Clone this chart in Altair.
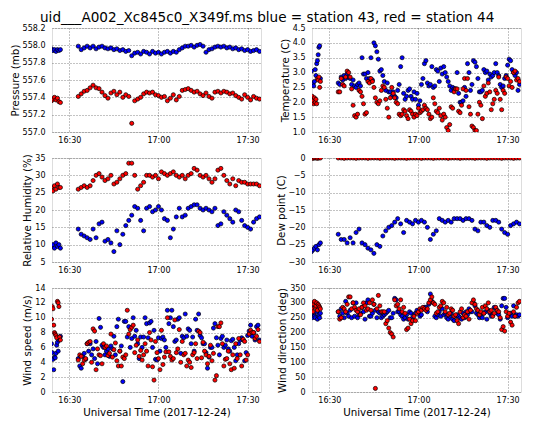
import altair as alt
import numpy as np
import pandas as pd

# ---------------- time grids (minutes after 16:00 UT) ----------------
T_COARSE = list(np.arange(24.0, 27.01, 0.5)) + list(np.arange(33.0, 94.01, 1.0))     # 7 + 62
T_FINE = list(np.arange(24.0, 27.01, 0.25)) + list(np.arange(33.0, 94.01, 0.5))      # 13 + 123

X_TICKS = [30, 60, 90]
X_TICK_LABELS = ["16:30", "17:00", "17:30"]
X_DOMAIN = [24.17, 94.5]
STATIONS = ["station 43", "station 44"]
COLORS = ["#0000ff", "#ff0000"]

# ---------------- Pressure (mb) ----------------
P_BLUE = [557.96, 557.94, 557.95, 557.93, 557.95, 557.94, 557.95,
          557.99, 557.95, 557.97, 557.99, 557.97, 557.99, 557.96, 557.98, 557.99, 557.97,
          557.96, 557.97, 557.95, 557.96, 557.94, 557.95, 557.93, 557.94, 557.88, 557.91,
          557.92, 557.90, 557.93, 557.92, 557.90, 557.93, 557.91, 557.92, 557.90, 557.92,
          557.93, 557.91, 557.93, 557.92, 557.95, 557.97, 557.99, 557.99, 558.00, 557.98,
          558.00, 558.01, 557.99, 557.92, 557.95, 557.96, 557.98, 557.99, 557.98, 557.99,
          557.97, 557.98, 557.96, 557.97, 557.95, 557.96, 557.94, 557.95, 557.93, 557.94,
          557.95, 557.93]
P_RED = [557.36, 557.38, 557.40, 557.37, 557.39, 557.35, 557.34,
         557.41, 557.44, 557.47, 557.48, 557.51, 557.54, 557.51, 557.50, 557.46, 557.42,
         557.39, 557.45, 557.47, 557.43, 557.46, 557.40, 557.43, 557.41, 557.10, 557.36,
         557.38, 557.40, 557.44, 557.46, 557.45, 557.46, 557.43, 557.42, 557.40, 557.41,
         557.36, 557.39, 557.43, 557.37, 557.41, 557.48, 557.49, 557.50, 557.48, 557.46,
         557.47, 557.44, 557.42, 557.45, 557.41, 557.39, 557.46, 557.47, 557.45, 557.47,
         557.46, 557.44, 557.45, 557.42, 557.40, 557.38, 557.43, 557.40, 557.37, 557.41,
         557.39, 557.38]

# ---------------- Temperature (C) ----------------
T_BLUE = [3.05, 2.6, 2.65, 2.55, 2.7, 3.1, 2.9, 3.3, 3.4, 3.6, 3.85, 3.9, 2.8,
          2.65, 2.6, 2.85, 2.75, 2.9, 2.8, 2.95, 2.85, 2.8, 2.6,
          2.75, 2.55, 2.5, 2.6, 2.65, 2.55, 3.5, 2.95, 2.95, 2.8,
          3.0, 2.8, 3.5, 2.75, 4.0, 3.9, 3.7, 3.45, 3.05, 3.1,
          2.9, 2.7, 2.4, 2.65, 2.35, 2.35, 2.2, 2.35, 2.2, 2.15,
          2.4, 2.6, 3.2, 3.5, 2.3, 2.1, 2.2, 2.4, 2.45, 2.2,
          2.1, 2.35, 2.1, 2.3, 1.9, 2.05, 2.6, 2.8, 3.3, 3.4,
          2.65, 2.55, 2.6, 3.2, 2.5, 2.55, 3.1, 3.05, 2.7, 3.15,
          2.95, 3.2, 3.0, 2.85, 2.7, 2.55, 2.4, 2.5, 2.45, 2.45,
          3.0, 2.3, 2.0, 2.0, 2.05, 2.5, 2.2, 3.3, 3.0, 2.4,
          2.6, 3.4, 3.35, 3.2, 2.8, 2.35, 2.35, 2.4, 3.1, 3.0,
          3.05, 2.75, 2.95, 2.85, 2.9, 3.0, 3.3, 3.0, 2.9, 2.6,
          2.5, 2.55, 2.8, 2.9, 3.25, 3.45, 3.4, 3.1, 3.0, 2.9,
          3.0, 2.4, 2.6]
T_RED = [2.1, 2.2, 2.05, 1.95, 2.15, 2.0, 2.1, 1.95, 2.8, 2.75, 2.85, 2.5, 2.7,
         2.35, 2.35, 2.8, 2.6, 2.55, 2.85, 3.05, 3.0, 2.85, 2.45,
         1.9, 1.55, 1.5, 1.6, 2.4, 2.35, 2.2, 1.95, 1.6, 1.65,
         2.7, 2.65, 2.8, 2.7, 2.5, 2.15, 2.0, 1.95, 2.05, 2.4,
         2.55, 2.5, 2.1, 1.8, 1.5, 2.15, 2.5, 2.3, 2.15, 2.0,
         1.95, 1.6, 1.55, 1.6, 1.75, 1.7, 1.55, 1.45, 1.75, 1.7,
         1.6, 1.5, 1.6, 1.55, 1.8, 1.65, 1.7, 1.75, 1.9, 1.8,
         1.75, 1.6, 1.45, 1.5, 2.15, 1.95, 1.7, 1.65, 1.8, 1.55,
         1.4, 1.6, 1.5, 1.15, 1.05, 1.25, 1.85, 1.8, 2.35, 2.45,
         2.45, 1.7, 1.65, 1.9, 2.45, 2.8, 2.4, 2.8, 1.85, 1.6,
         1.2, 1.15, 1.05, 1.05, 1.6, 2.0, 1.9, 1.45, 2.55, 2.2,
         2.3, 2.65, 2.35, 1.75, 1.95, 2.1, 2.4, 2.3, 2.85, 2.1,
         1.75, 2.4, 2.3, 2.85, 2.8, 2.55, 2.7, 2.5, 3.0, 3.05,
         2.75, 2.8, 2.7]

# ---------------- Relative Humidity (%) ----------------
RH_BLUE = [9.5, 10.0, 9.0, 10.5, 9.5, 10.0, 9.0,
           14.5, 13.0, 12.5, 12.0, 11.5, 14.5, 12.0, 16.0, 16.5, 11.0,
           11.5, 10.5, 8.0, 14.0, 10.0, 13.0, 15.5, 17.0, 18.5, 21.0,
           20.5, 17.0, 14.0, 20.5, 21.0, 19.5, 20.0, 21.0, 20.0, 17.5,
           17.0, 12.0, 14.5, 18.0, 20.5, 18.0, 18.5, 20.5, 21.0, 21.5,
           21.5, 20.5, 20.0, 20.5, 20.0, 19.5, 20.5, 15.5, 16.0, 19.5,
           18.5, 17.5, 16.5, 20.0, 19.5, 17.0, 15.5, 15.0, 14.5, 16.5,
           17.5, 18.0]
RH_RED = [26.5, 25.5, 27.0, 26.0, 27.5, 26.5, 26.5,
          26.0, 26.5, 27.0, 26.5, 27.0, 28.5, 30.0, 30.5, 29.5, 28.5,
          29.0, 30.0, 27.5, 28.0, 29.0, 30.0, 30.5, 33.5, 33.5, 30.0,
          26.0, 27.0, 28.0, 30.0, 30.0, 29.5, 30.0, 29.0, 31.0, 30.5,
          30.0, 30.5, 31.0, 30.0, 29.5, 30.0, 29.0, 30.0, 30.5, 32.0,
          31.5, 30.0, 29.5, 30.0, 29.0, 28.0, 29.0, 31.5, 32.0, 30.0,
          28.5, 27.5, 29.0, 27.0, 28.5, 28.0, 28.0, 27.5, 27.5, 27.5,
          27.5, 27.0]

# ---------------- Dew point (C) ----------------
DP_BLUE = [-27.0, -26.5, -26.0, -25.5, -26.5, -25.0, -24.5,
           -22.0, -23.5, -23.5, -24.5, -23.0, -24.5, -21.5, -20.5, -24.5, -25.0,
           -26.0, -26.5, -27.5, -25.0, -25.5, -22.5, -21.0, -20.0, -19.5, -18.5,
           -17.5, -19.0, -21.5, -18.0, -18.5, -19.0, -18.0, -18.5, -18.0, -18.5,
           -20.0, -23.5, -22.0, -21.0, -17.5, -18.0, -18.5, -18.0, -18.5, -17.5,
           -17.5, -17.5, -18.0, -17.5, -17.5, -18.0, -20.5, -21.0, -18.5, -18.5,
           -19.5, -20.0, -18.0, -18.0, -18.5, -20.5, -21.5, -22.0, -19.5, -19.0,
           -18.5, -19.0]
DP_RED = [0.0, -0.1, 0.0, 0.0, -0.1, 0.0, 0.0,
          0.0, 0.0, -0.1, 0.0, 0.0, 0.0, -0.1, 0.0, 0.0, 0.0,
          -0.1, 0.0, 0.0, 0.0, -0.1, 0.0, 0.0, 0.0, 0.0, -0.1,
          0.0, 0.0, 0.0, -0.1, 0.0, 0.0, 0.0, 0.0, -0.1, 0.0,
          0.0, 0.0, -0.1, 0.0, 0.0, 0.0, 0.0, -0.1, 0.0, 0.0,
          0.0, -0.1, 0.0, 0.0, 0.0, 0.0, -0.1, 0.0, 0.0, 0.0,
          -0.1, 0.0, 0.0, 0.0, 0.0, -0.1, 0.0, 0.0, 0.0, -0.1,
          0.0, 0.0]

# ---------------- Wind speed (m/s) ----------------
WS_BLUE = [6.5, 5.3, 4.4, 3.0, 4.7, 4.6, 5.2, 6.3, 6.7, 5.5, 7.0, 7.3, 7.5,
           4.5, 3.5, 3.2, 4.8, 5.2, 4.4, 6.5, 5.5, 6.5, 5.0,
           5.8, 4.5, 6.8, 3.8, 9.9, 8.7, 6.3, 6.0, 5.0, 5.5,
           5.8, 4.8, 6.2, 5.8, 7.5, 5.0, 8.8, 9.8, 5.5, 6.2,
           1.4, 9.5, 9.5, 7.4, 8.8, 6.0, 7.2, 10.0, 7.5, 8.3,
           6.5, 4.5, 7.4, 6.0, 7.4, 10.0, 9.2, 7.3, 9.3, 9.5,
           6.0, 8.3, 4.4, 4.3, 7.3, 5.5, 7.2, 7.4, 7.0, 6.0,
           11.0, 9.2, 10.0, 11.0, 8.8, 6.8, 7.0, 9.8, 10.0, 5.2,
           7.5, 7.3, 10.5, 7.5, 8.5, 8.3, 6.5, 7.4, 5.5, 9.8,
           8.3, 10.5, 7.6, 7.3, 6.5, 6.5, 5.3, 3.2, 4.7, 6.0,
           6.0, 8.6, 9.2, 7.3, 6.3, 5.0, 7.2, 7.5, 6.0, 6.3,
           7.0, 5.8, 5.5, 6.9, 7.1, 6.0, 4.2, 5.0, 6.5, 7.0,
           7.3, 7.0, 4.2, 5.3, 7.6, 8.2, 9.0, 7.5, 8.0, 7.0,
           8.8, 9.0, 7.0]
WS_RED = [9.8, 11.5, 11.2, 9.0, 8.0, 7.8, 7.6, 7.3, 12.2, 12.0, 11.5, 7.4, 7.0,
          4.3, 5.0, 4.8, 3.8, 4.3, 4.5, 6.5, 6.7, 6.8, 4.0,
          8.5, 8.2, 3.0, 5.8, 5.0, 4.9, 3.8, 6.5, 6.0, 6.2,
          4.9, 5.2, 7.8, 4.7, 5.7, 6.6, 4.2, 3.5, 5.5, 3.5,
          4.7, 4.5, 5.0, 11.0, 7.8, 8.4, 8.7, 9.0, 5.3, 6.3,
          7.0, 4.8, 5.6, 4.3, 5.0, 6.5, 5.5, 3.5, 8.0, 7.0,
          3.4, 1.6, 6.8, 5.3, 4.5, 3.0, 8.3, 3.7, 4.7, 5.4,
          10.0, 5.4, 4.8, 4.3, 4.5, 9.7, 5.3, 5.8, 8.4, 4.0,
          6.8, 5.0, 5.2, 3.5, 4.3, 4.0, 3.3, 5.0, 5.3, 6.5,
          4.5, 8.2, 8.0, 4.6, 6.7, 5.5, 5.0, 3.8, 4.8, 6.3,
          4.2, 5.2, 1.6, 2.2, 8.8, 8.8, 9.3, 6.5, 3.5, 4.4,
          4.5, 5.5, 3.8, 3.0, 5.0, 3.2, 6.5, 4.5, 7.2, 5.0,
          3.5, 7.1, 6.8, 4.3, 5.0, 7.8, 8.3, 8.0, 8.0, 7.2,
          7.5, 8.4, 6.8]

# ---------------- Wind direction (deg) ----------------
WD_BLUE = [260, 250, 290, 265, 255, 250, 300, 270, 245, 255, 260, 250, 265,
           270, 255, 280, 265, 250, 305, 265, 255, 275, 250,
           300, 255, 300, 250, 260, 265, 285, 270, 245, 300,
           310, 255, 255, 265, 295, 275, 250, 270, 265, 250,
           255, 260, 265, 270, 275, 250, 250, 265, 315, 310,
           270, 270, 260, 255, 245, 250, 260, 245, 270, 265,
           250, 260, 265, 275, 265, 255, 260, 280, 285, 285,
           270, 295, 330, 305, 300, 255, 250, 260, 270, 255,
           280, 260, 265, 250, 245, 255, 265, 245, 240, 255,
           260, 255, 250, 245, 265, 250, 270, 260, 280, 270,
           270, 300, 290, 265, 260, 250, 255, 250, 265, 270,
           245, 275, 265, 255, 260, 285, 280, 265, 260, 245,
           290, 315, 315, 285, 250, 260, 265, 255, 290, 255,
           260, 255, 260]
WD_RED = [300, 280, 270, 295, 305, 285, 290, 300, 275, 295, 290, 285, 280,
          270, 245, 250, 285, 280, 270, 295, 320, 320, 280,
          300, 285, 275, 270, 280, 260, 285, 300, 290, 275,
          280, 300, 275, 310, 295, 12, 280, 325, 290, 270,
          270, 270, 230, 240, 215, 200, 195, 185, 310, 290,
          295, 280, 310, 270, 285, 265, 210, 215, 245, 230,
          240, 255, 240, 265, 270, 280, 275, 285, 280, 275,
          280, 300, 310, 320, 300, 295, 265, 270, 285, 290,
          305, 300, 270, 285, 260, 265, 280, 275, 255, 260,
          240, 230, 270, 280, 250, 260, 255, 270, 245, 275,
          300, 310, 295, 280, 275, 260, 270, 285, 265, 290,
          280, 300, 270, 275, 255, 265, 285, 275, 270, 250,
          210, 220, 205, 270, 255, 265, 235, 225, 270, 255,
          285, 300, 305]

TITLE = "uid___A002_Xc845c0_X349f.ms  blue = station 43,  red = station 44"
XTITLE = "Universal Time (2017-12-24)"

LABEL_EXPR = ("datum.value == %d ? '%s' : datum.value == %d ? '%s' : '%s'"
              % (X_TICKS[0], X_TICK_LABELS[0], X_TICKS[1], X_TICK_LABELS[1], X_TICK_LABELS[2]))

AX_COMMON = dict(
    labelFont="DejaVu Sans", labelFontSize=8, labelColor="black",
    titleFont="DejaVu Sans", titleFontSize=10.3, titleFontWeight="normal", titleColor="black",
    domain=False, ticks=False, tickSize=0,
    grid=True, gridColor="black", gridDash=[1, 2], gridOpacity=0.6, gridWidth=0.8,
)


def panel(t, blue, red, ytitle, dom, yticks, fmt, xtitle):
    df = pd.DataFrame({
        "t": list(t) + list(t),
        "v": list(blue) + list(red),
        "s": [STATIONS[0]] * len(blue) + [STATIONS[1]] * len(red),
    })
    if xtitle:
        xaxis = alt.Axis(values=X_TICKS, labelExpr=LABEL_EXPR, title=xtitle,
                         labelPadding=4, titlePadding=3, **AX_COMMON)
    else:
        xaxis = alt.Axis(values=X_TICKS, labelExpr=LABEL_EXPR, title=None,
                         labelPadding=4, **AX_COMMON)
    yaxis = alt.Axis(values=yticks, format=fmt, title=ytitle,
                     labelPadding=7, titlePadding=2, **AX_COMMON)
    return alt.Chart(df).mark_circle(
        size=17, stroke="black", strokeWidth=0.7, opacity=1, clip=True
    ).encode(
        x=alt.X("t:Q", scale=alt.Scale(domain=X_DOMAIN, nice=False, zero=False), axis=xaxis),
        y=alt.Y("v:Q", scale=alt.Scale(domain=dom, nice=False, zero=False), axis=yaxis),
        color=alt.Color("s:N", scale=alt.Scale(domain=STATIONS, range=COLORS), legend=None),
    ).properties(width=209, height=104)


p1 = panel(T_COARSE, P_BLUE, P_RED, "Pressure (mb)", [557.0, 558.2],
           [557.0, 557.2, 557.4, 557.6, 557.8, 558.0, 558.2], ".1f", None)
p2 = panel(T_FINE, T_BLUE, T_RED, "Temperature (C)", [1.0, 4.5],
           [1.0, 1.5, 2.0, 2.5, 3.0, 3.5, 4.0, 4.5], ".1f", None)
p3 = panel(T_COARSE, RH_BLUE, RH_RED, "Relative Humidity (%)", [5, 35],
           [5, 10, 15, 20, 25, 30, 35], "d", None)
p4 = panel(T_COARSE, DP_BLUE, DP_RED, "Dew point (C)", [-30, 0],
           [-30, -25, -20, -15, -10, -5, 0], "d", None)
p5 = panel(T_FINE, WS_BLUE, WS_RED, "Wind speed (m/s)", [0, 14],
           [0, 2, 4, 6, 8, 10, 12, 14], "d", XTITLE)
p6 = panel(T_FINE, WD_BLUE, WD_RED, "Wind direction (deg)", [0, 350],
           [0, 50, 100, 150, 200, 250, 300, 350], "d", XTITLE)

chart = alt.concat(
    p1, p2, p3, p4, p5, p6, columns=2,
    spacing={"row": 26, "column": 51}, bounds="flush",
).properties(
    title=alt.TitleParams(TITLE, fontSize=13.6, font="DejaVu Sans", fontWeight="normal",
                          color="black", anchor="start", frame="group", dx=-12, offset=-1),
    padding={"left": 1, "top": 2, "right": 5, "bottom": 0},
).configure_view(
    stroke="black", strokeWidth=1
).configure_axis(
    titleFontWeight="normal"
).configure(background="white")

chart.save("out.html", embed_options={"renderer": "svg", "actions": False})
